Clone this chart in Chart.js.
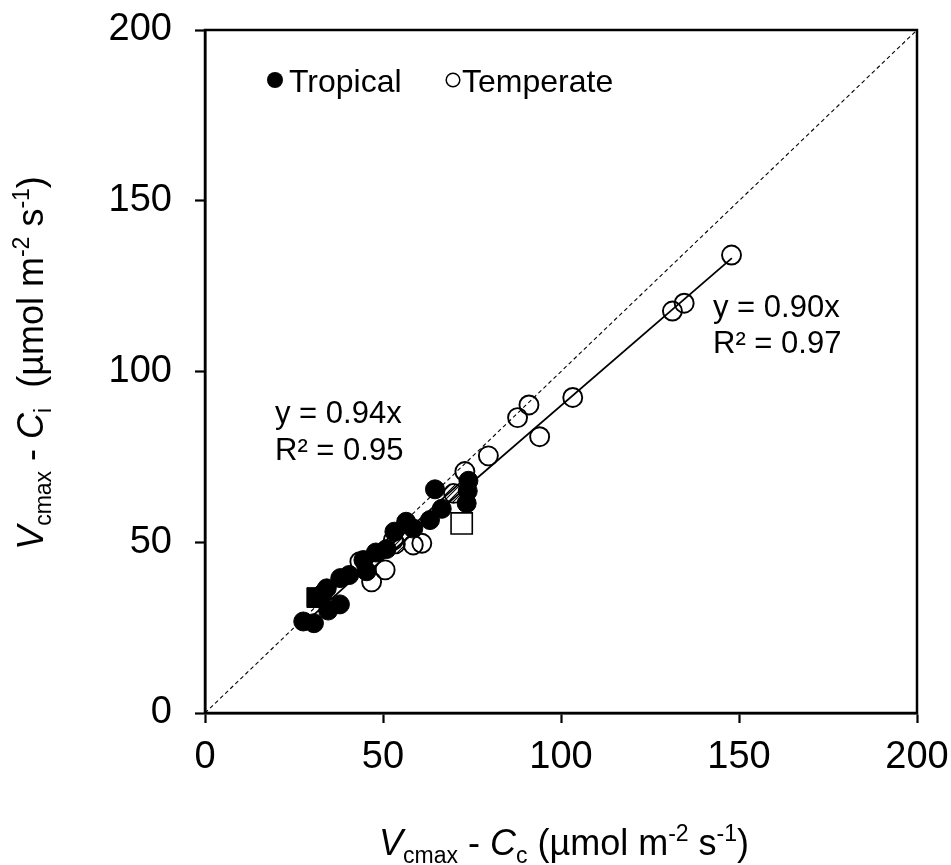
<!DOCTYPE html>
<html>
<head>
<meta charset="utf-8">
<script src="https://cdn.jsdelivr.net/npm/chart.js@4.4.0/dist/chart.umd.min.js"></script>
<style>
  html, body { margin: 0; padding: 0; background: #fff; }
  #wrap { width: 951px; height: 865px; }
</style>
</head>
<body>
<div id="wrap"><canvas id="chart" width="951" height="865"></canvas></div>
<script>
// --- datos ---
const tropicalX = [64.6, 74.0, 73.8, 73.5, 66.5, 63.2, 56.5, 58.5, 53.2, 48.0, 51.0, 44.5, 45.4, 40.5, 38.0, 34.2, 33.1, 37.9, 34.6, 27.6, 30.6];
const tropicalY = [65.5, 68.0, 65.0, 61.4, 59.8, 56.5, 56.0, 54.0, 53.1, 47.0, 48.0, 44.8, 41.5, 40.4, 39.5, 36.5, 35.0, 31.8, 30.0, 26.8, 26.3];
const temperateX = [147.9, 134.6, 131.3, 103.3, 91.0, 87.8, 94.0, 79.6, 73.0, 60.9, 58.5, 52.9, 50.6, 46.8, 43.5];
const temperateY = [134.1, 120.0, 117.7, 92.4, 90.2, 86.5, 80.9, 75.3, 70.7, 49.7, 49.2, 50.6, 41.9, 38.4, 44.3];
const hatchedX = [69.8, 53.5];
const hatchedY = [64.3, 49.5];
const openSquareX = [72.1];
const openSquareY = [55.5];
const filledSquareX = [31.4];
const filledSquareY = [33.8];
const tropFitX = [27.5, 74.0];
const tropFitY = [25.9, 69.6];
const tempFitX = [44.0, 148.0];
const tempFitY = [39.6, 133.2];
const oneToOneX = [0, 200];
const oneToOneY = [0, 200];
const tickValues = [0, 50, 100, 150, 200];

const FONT = '"Liberation Sans", Arial, sans-serif';

const toPts = (xs, ys) => xs.map((x, i) => ({ x: x, y: ys[i] }));

const canvas = document.getElementById('chart');
const ctx = canvas.getContext('2d');

// patrón rayado para los marcadores sin leyenda
function makeHatch() {
    const c = document.createElement('canvas');
    c.width = 5; c.height = 5;
    const g = c.getContext('2d');
    g.strokeStyle = '#000';
    g.lineWidth = 1.1;
    g.beginPath();
    g.moveTo(0, 5); g.lineTo(5, 0);
    g.moveTo(-1, 1); g.lineTo(1, -1);
    g.moveTo(4, 6); g.lineTo(6, 4);
    g.stroke();
    return ctx.createPattern(c, 'repeat');
}

// dibuja texto con subíndices / superíndices, centrado en (0,0)
function drawRuns(g, runs, size) {
    const small = Math.round(size * 0.65);
    const fontOf = r => (r.it ? 'italic ' : '') + (r.pos ? small : size) + 'px ' + FONT;
    let total = 0;
    runs.forEach(r => { g.font = fontOf(r); total += g.measureText(r.t).width; });
    let x = -total / 2;
    runs.forEach(r => {
        g.font = fontOf(r);
        const dy = r.pos === -1 ? size * 0.22 : (r.pos === 1 ? -size * 0.38 : 0);
        g.fillText(r.t, x, dy);
        x += g.measureText(r.t).width;
    });
}

const xTitle = [
    { t: 'V', it: true }, { t: 'cmax', pos: -1 }, { t: ' - ' }, { t: 'C', it: true }, { t: 'c', pos: -1 },
    { t: ' (µmol m' }, { t: '-2', pos: 1 }, { t: ' s' }, { t: '-1', pos: 1 }, { t: ')' }
];
const yTitle = [
    { t: 'V', it: true }, { t: 'cmax', pos: -1 }, { t: ' - ' }, { t: 'C', it: true }, { t: 'i', pos: -1 },
    { t: '  (µmol m' }, { t: '-2', pos: 1 }, { t: ' s' }, { t: '-1', pos: 1 }, { t: ')' }
];

const decorPlugin = {
    id: 'decor',
    afterDraw(chart) {
        const g = chart.ctx;
        const a = chart.chartArea;
        g.save();
        // marco completo
        g.strokeStyle = '#000';
        g.lineWidth = 2.5;
        g.strokeRect(a.left, a.top, a.right - a.left, a.bottom - a.top);

        g.fillStyle = '#000';
        g.textBaseline = 'alphabetic';
        g.textAlign = 'left';

        // títulos de ejes
        g.save();
        g.translate(564, 855);
        drawRuns(g, xTitle, 36);
        g.restore();
        g.save();
        g.translate(43, 363);
        g.rotate(-Math.PI / 2);
        drawRuns(g, yTitle, 36);
        g.restore();

        // ecuaciones
        g.font = '31px ' + FONT;
        g.fillText('y = 0.94x', 275, 423);
        g.fillText('R² = 0.95', 275, 460);
        g.fillText('y = 0.90x', 713, 317);
        g.fillText('R² = 0.97', 713, 353);

        // leyenda
        g.beginPath();
        g.arc(275, 80, 8, 0, Math.PI * 2);
        g.fill();
        g.beginPath();
        g.lineWidth = 1.5;
        g.arc(453, 80, 6.8, 0, Math.PI * 2);
        g.stroke();
        g.font = '32px ' + FONT;
        g.fillText('Tropical', 289, 92);
        g.fillText('Temperate', 462, 92);
        g.restore();
    }
};

const axisCommon = {
    type: 'linear',
    min: 0,
    max: 200,
    afterBuildTicks: s => { s.ticks = tickValues.map(v => ({ value: v })); },
    grid: { drawOnChartArea: false, drawTicks: true, tickLength: 10, tickWidth: 2.2, tickColor: '#000' },
    border: { display: true, color: '#000', width: 2.5 }
};

new Chart(ctx, {
    type: 'scatter',
    data: {
        datasets: [
            { label: 'open square', data: toPts(openSquareX, openSquareY), pointStyle: 'rect', pointRadius: 15,
              backgroundColor: '#fff', borderColor: '#000', borderWidth: 1.6, order: 0 },
            { label: 'filled square', data: toPts(filledSquareX, filledSquareY), pointStyle: 'rect', pointRadius: 14,
              backgroundColor: '#000', borderColor: '#000', borderWidth: 1, order: 0 },
            { label: 'Tropical', data: toPts(tropicalX, tropicalY), pointRadius: 9.5,
              backgroundColor: '#000', borderColor: '#000', borderWidth: 1, order: 1 },
            { label: 'hatched', data: toPts(hatchedX, hatchedY), pointRadius: 9.5,
              backgroundColor: makeHatch(), borderColor: '#000', borderWidth: 1.6, order: 2 },
            { label: 'Temperate', data: toPts(temperateX, temperateY), pointRadius: 9.5,
              backgroundColor: 'rgba(0,0,0,0)', borderColor: '#000', borderWidth: 1.9, order: 3 },
            { label: 'fit tropical', data: toPts(tropFitX, tropFitY), showLine: true, pointRadius: 0,
              borderColor: '#000', borderWidth: 1.8, order: 5 },
            { label: 'fit temperate', data: toPts(tempFitX, tempFitY), showLine: true, pointRadius: 0,
              borderColor: '#000', borderWidth: 1.8, order: 5 },
            { label: '1:1', data: toPts(oneToOneX, oneToOneY), showLine: true, pointRadius: 0,
              borderColor: '#000', borderWidth: 1.1, borderDash: [4, 3], order: 6 }
        ]
    },
    options: {
        responsive: false,
        animation: false,
        events: [],
        layout: { padding: { top: 30, right: 34, left: 0, bottom: 0 } },
        plugins: { legend: { display: false }, tooltip: { enabled: false } },
        scales: {
            x: Object.assign({}, axisCommon, {
                afterFit: s => { s.height = 865 - 713; s.paddingLeft = 0; s.paddingRight = 0; },
                ticks: { color: '#000', font: { family: FONT, size: 38 }, padding: 12, maxRotation: 0 }
            }),
            y: Object.assign({}, axisCommon, {
                afterFit: s => { s.width = 205; s.paddingTop = 0; s.paddingBottom = 0; },
                ticks: { color: '#000', font: { family: FONT, size: 38 }, padding: 23 }
            })
        }
    },
    plugins: [decorPlugin]
});
</script>
</body>
</html>
